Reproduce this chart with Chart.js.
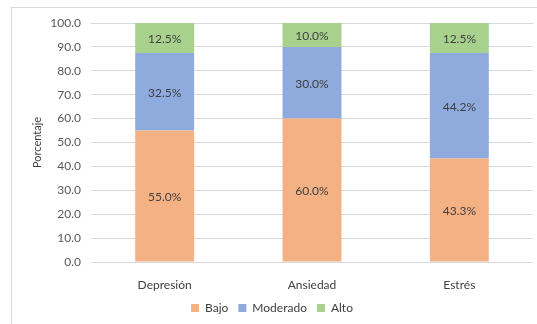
<!DOCTYPE html>
<html>
<head>
<meta charset="utf-8">
<script src="https://cdn.jsdelivr.net/npm/chart.js@4"></script>
<style>
    html, body { margin: 0; padding: 0; background: #fff; overflow: hidden; }
    #wrap { position: relative; width: 537px; height: 324px; }
    #frame { position: absolute; left: 11px; top: 7px; width: 540px; height: 330px; border: 1px solid #d9d9d9; box-sizing: border-box; }
    #nivelesChart { position: absolute; left: 0; top: 0; }
</style>
</head>
<body>
<div id="wrap">
    <div id="frame"></div>
    <canvas id="nivelesChart" width="537" height="324"></canvas>
</div>
<script>
const categorias = ['Depresión', 'Ansiedad', 'Estrés'];
const bajo = [55.0, 60.0, 43.3];
const moderado = [32.5, 30.0, 44.2];
const alto = [12.5, 10.0, 12.5];
const yTicks = [0, 10, 20, 30, 40, 50, 60, 70, 80, 90, 100];

const fuente = 'Lato, "DejaVu Sans", sans-serif';

// writes the percentage in the middle of each bar segment
const etiquetasBarras = {
    id: 'etiquetasBarras',
    afterDatasetsDraw(chart) {
        const ctx = chart.ctx;
        ctx.save();
        ctx.font = '12px ' + fuente;
        ctx.fillStyle = '#404040';
        ctx.textAlign = 'center';
        ctx.textBaseline = 'middle';
        chart.data.datasets.forEach((ds, i) => {
            chart.getDatasetMeta(i).data.forEach((bar, j) => {
                const mid = (bar.y + bar.base) / 2;
                ctx.fillText(ds.data[j].toFixed(1) + '%', bar.x, mid + 1);
            });
        });
        ctx.restore();
    }
};

const ctx = document.getElementById('nivelesChart').getContext('2d');
new Chart(ctx, {
    type: 'bar',
    data: {
        labels: categorias,
        datasets: [
            { label: 'Bajo', data: bajo, backgroundColor: '#f4b183' },
            { label: 'Moderado', data: moderado, backgroundColor: '#8faadc' },
            { label: 'Alto', data: alto, backgroundColor: '#a9d18e' }
        ]
    },
    options: {
        responsive: false,
        animation: false,
        layout: { padding: { left: 11, right: 4, top: 23, bottom: 0 } },
        datasets: {
            bar: { categoryPercentage: 0.8, barPercentage: 0.5 }
        },
        plugins: {
            legend: {
                position: 'bottom',
                labels: {
                    boxWidth: 8,
                    boxHeight: 8,
                    padding: 10,
                    color: '#404040',
                    font: { family: fuente, size: 12 }
                }
            },
            tooltip: { enabled: false }
        },
        scales: {
            x: {
                stacked: true,
                grid: { display: false },
                border: { display: false },
                ticks: { color: '#404040', padding: 8, font: { family: fuente, size: 12 } },
                afterFit: (s) => { s.height = 30; }
            },
            y: {
                stacked: true,
                min: 0,
                max: 100,
                afterBuildTicks: (s) => { s.ticks = yTicks.map(v => ({ value: v })); },
                grid: { color: '#d9d9d9', drawTicks: false },
                border: { display: false },
                ticks: {
                    color: '#595959',
                    padding: 10,
                    font: { family: fuente, size: 12 },
                    callback: (v) => v.toFixed(1)
                },
                title: {
                    display: true,
                    text: 'Porcentaje',
                    color: '#404040',
                    font: { family: fuente, size: 11 },
                    padding: { top: 20, bottom: 0 }
                },
                afterFit: (s) => { s.width = 80; }
            }
        }
    },
    plugins: [etiquetasBarras]
});
</script>
</body>
</html>
